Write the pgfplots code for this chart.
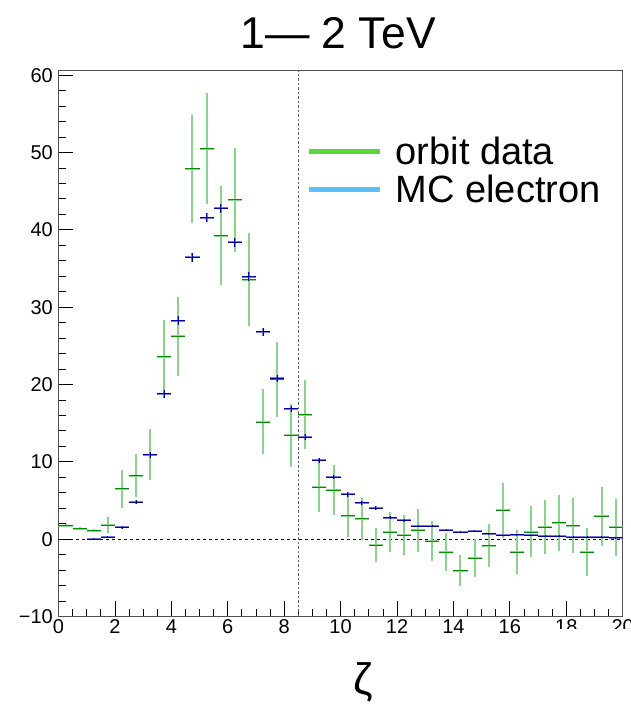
\documentclass[border=0pt]{standalone}
\usepackage{fontspec}
\setmainfont{Liberation Sans}
\usepackage{pgfplots}
\usepackage{pgfplotstable}
\pgfplotsset{compat=1.18}
\definecolor{gdark}{RGB}{0,140,0}
\definecolor{glight}{RGB}{140,210,140}
\definecolor{bdark}{RGB}{0,0,150}
\definecolor{blight}{RGB}{120,120,215}
\definecolor{glegend}{RGB}{93,212,58}
\definecolor{blegend}{RGB}{91,192,248}
\definecolor{axisgray}{RGB}{80,80,80}
\definecolor{vdash}{RGB}{100,100,100}

\pgfplotstableread{
x y ey
0.25 1.75 0.2
0.75 1.36 0.2
1.25 1.10 0.2
1.75 1.83 1.0
2.25 6.53 2.46
2.75 8.21 2.8
3.25 10.93 3.3
3.75 23.57 4.8
4.25 26.24 5.1
4.75 47.9 7.0
5.25 50.5 7.2
5.75 39.22 6.4
6.25 43.88 6.7
6.75 33.57 6.0
7.25 15.16 4.2
7.75 20.7 4.85
8.25 13.43 4.1
8.75 16.1 4.5
9.25 6.75 3.3
9.75 6.36 3.25
10.25 3.04 2.8
10.75 2.65 2.7
11.25 -0.75 2.2
11.75 0.88 2.6
12.25 0.5 2.6
12.75 1.14 2.75
13.25 -0.28 2.6
13.75 -1.66 2.5
14.25 -4.07 2.0
14.75 -2.44 2.4
15.25 -0.84 2.8
15.75 3.73 3.55
16.25 -1.66 2.8
16.75 0.93 3.3
17.25 1.53 3.5
17.75 2.13 3.6
18.25 1.75 3.6
18.75 -1.66 3.1
19.25 2.95 3.8
19.75 1.53 3.7
}\greendata

\pgfplotstableread{
x y ey
1.25 0.0 0.1
1.75 0.25 0.15
2.25 1.53 0.2
2.75 4.81 0.3
3.25 10.93 0.4
3.75 18.78 0.5
4.25 28.27 0.55
4.75 36.46 0.6
5.25 41.55 0.6
5.75 42.76 0.6
6.25 38.36 0.6
6.75 33.96 0.6
7.25 26.8 0.5
7.75 20.8 0.45
8.25 16.84 0.4
8.75 13.17 0.4
9.25 10.2 0.35
9.75 8.04 0.3
10.25 5.8 0.3
10.75 4.72 0.25
11.25 4.03 0.25
11.75 2.78 0.2
12.25 2.43 0.2
12.75 1.7 0.15
13.25 1.7 0.15
13.75 1.19 0.15
14.25 0.93 0.1
14.75 1.06 0.1
15.25 0.71 0.1
15.75 0.5 0.1
16.25 0.6 0.1
16.75 0.5 0.1
17.25 0.39 0.1
17.75 0.39 0.1
18.25 0.26 0.1
18.75 0.26 0.1
19.25 0.26 0.1
19.75 0.17 0.1
}\bluedata

\begin{document}
\begin{tikzpicture}
\begin{axis}[
  scale only axis, width=564.2pt, height=546pt,
  xmin=0, xmax=20, ymin=-10, ymax=60.6,
  axis line style={axisgray, line width=1pt},
  tick align=inside, tick pos=left,
  xtick={0,2,...,20}, minor x tick num=3,
  ytick={-10,0,...,60}, minor y tick num=4,
  yticklabels={−10,0,10,20,30,40,50,60},
  xticklabels={0,2,4,6,8,10,12,14,16,18,20},
  major tick length=15pt, minor tick length=7.5pt,
  every tick/.style={black, line width=0.8pt},
  ticklabel style={font=\fontsize{20}{24}\selectfont, inner sep=0pt},
  yticklabel style={xshift=-5.5pt},
  xticklabel style={yshift=-3pt},
  /pgf/number format/assume math mode=true,
  legend style={at={(0.4405,0.8784)}, anchor=north west, draw=none, fill=none,
    font=\fontsize{38}{40}\selectfont, inner sep=0pt, row sep=9pt,
    nodes={inner sep=0pt}, /tikz/every odd column/.append style={column sep=13pt}},
  legend cell align=left,
  legend image code/.code={\draw[#1] (0pt,0pt) -- (71pt,0pt);},
]
\addplot[forget plot, black, line width=0.8pt, dash pattern=on 3pt off 3pt] coordinates {(0,0) (20,0)};
\addplot[forget plot, vdash, line width=1.5pt, dash pattern=on 2.5pt off 2pt] coordinates {(8.5,-10) (8.5,60.6)};

\addplot[forget plot, draw=none, mark=none,
  error bars/.cd, x dir=both, x fixed=0.25, y dir=both, y explicit, error mark=none,
  error bar style={draw=glight, line width=2pt}]
  table[x=x, y=y, y error=ey] {\greendata};
\addplot[forget plot, draw=none, mark=none,
  error bars/.cd, x dir=both, x fixed=0.25, error mark=none,
  error bar style={draw=gdark, line width=0.8pt}]
  table[x=x, y=y] {\greendata};

\addplot[forget plot, draw=none, mark=none,
  error bars/.cd, x dir=both, x fixed=0.25, y dir=both, y explicit, error mark=none,
  error bar style={draw=blight, line width=2pt}]
  table[x=x, y=y, y error=ey] {\bluedata};
\addplot[forget plot, draw=none, mark=none,
  error bars/.cd, x dir=both, x fixed=0.25, y dir=both, y explicit, error mark=none,
  error bar style={draw=bdark, line width=0.9pt}]
  table[x=x, y=y, y error=ey] {\bluedata};

\addlegendimage{glegend, line width=4.5pt}
\addlegendentry{orbit data}
\addlegendimage{blegend, line width=4.5pt}
\addlegendentry{MC electron}
\end{axis}
\fill[white] (481.5pt,-12.5pt) rectangle (572.5pt,-44pt);
\node[anchor=base, inner sep=0pt, font=\fontsize{44.5}{50}\selectfont] at (279.5pt,567.5pt) {1— 2 TeV};
\node[anchor=north, inner sep=0pt, font=\fontsize{44}{50}\selectfont] at (304.5pt,-45.5pt) {ζ};
\pgfresetboundingbox
\path (-58.5pt,-88.5pt) rectangle (572.5pt,616.5pt);
\end{tikzpicture}
\end{document}
